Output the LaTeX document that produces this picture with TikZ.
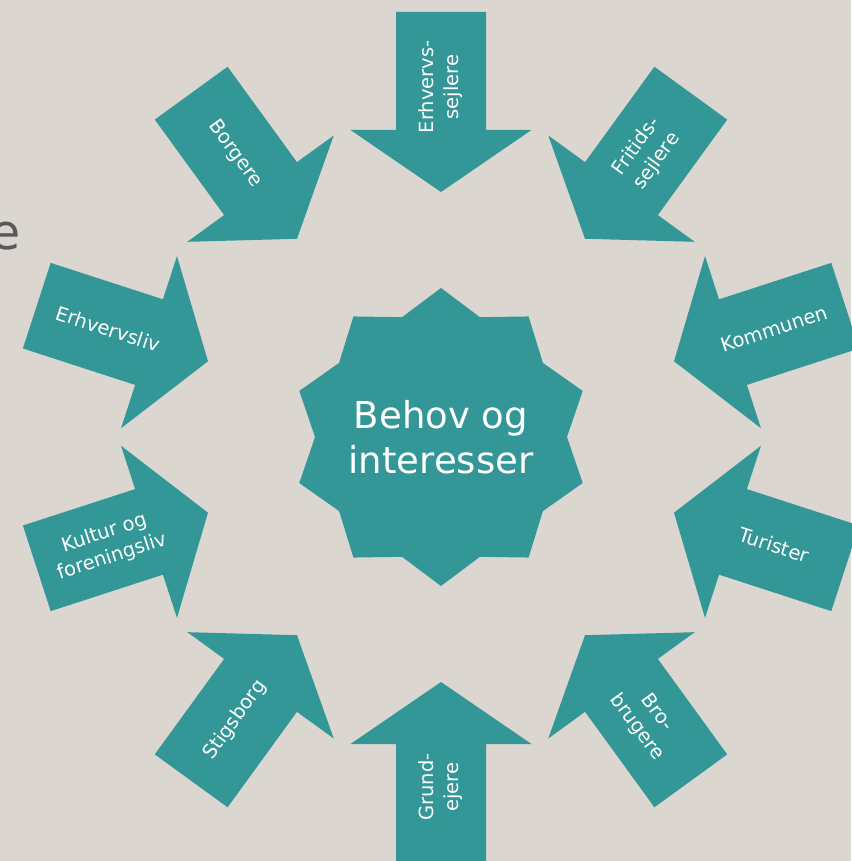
\documentclass[tikz,border=0pt]{standalone}
\usepackage{fontspec}
\setmainfont{DejaVu Sans}
\definecolor{sealteal}{HTML}{349797}
\definecolor{paper}{HTML}{DCD6D1}
\definecolor{titlegrey}{HTML}{595959}

\begin{document}
\begin{tikzpicture}[x=1pt, y=1pt,
  lbl/.style = {text=white, align=center, inner sep=0pt, font=\fontsize{19.5}{25}\selectfont}]
\def\inarrow{(425,45) -- (307,45) -- (307,90.5) -- (245,0) -- (307,-90.5) -- (307,-45) -- (425,-45) -- cycle}
\fill[paper] (-441,-424) rectangle (410,437);
\useasboundingbox (-441,-424) rectangle (410,437);
% cropped title letter at the left edge
\node [anchor=base east, inner sep=0pt, text=titlegrey, font=\fontsize{49}{58}\selectfont] (title) at (-420,187) {e};
% the star in the middle
\fill[sealteal] (90:149) \foreach \a in {90,126,...,414} {-- (\a:149) -- ({\a+18}:126)} -- cycle;
\node [text=white, align=center, font=\fontsize{37}{45}\selectfont] (needs) at (0,0) {Behov og\\interesser};
% the ten arrows
\foreach \ang/\rot/\name/\txt in {90/90/erhsej/Erhvervs-\\sejlere, 54/54/fritid/Fritids-\\sejlere,
    18/18/kommune/Kommunen, -18/-18/turist/Turister, -54/-54/bro/Bro-\\brugere,
    -90/90/grund/Grund-\\ejere, -126/54/stigs/Stigsborg, -162/18/kultur/Kultur og\\foreningsliv,
    162/-18/erhliv/Erhvervsliv, 126/-54/borger/Borgere} {
  \fill[sealteal, rotate=\ang] \inarrow;
  \node [lbl, rotate=\rot] (\name) at (\ang:350) {\txt};
}
\end{tikzpicture}
\end{document}
